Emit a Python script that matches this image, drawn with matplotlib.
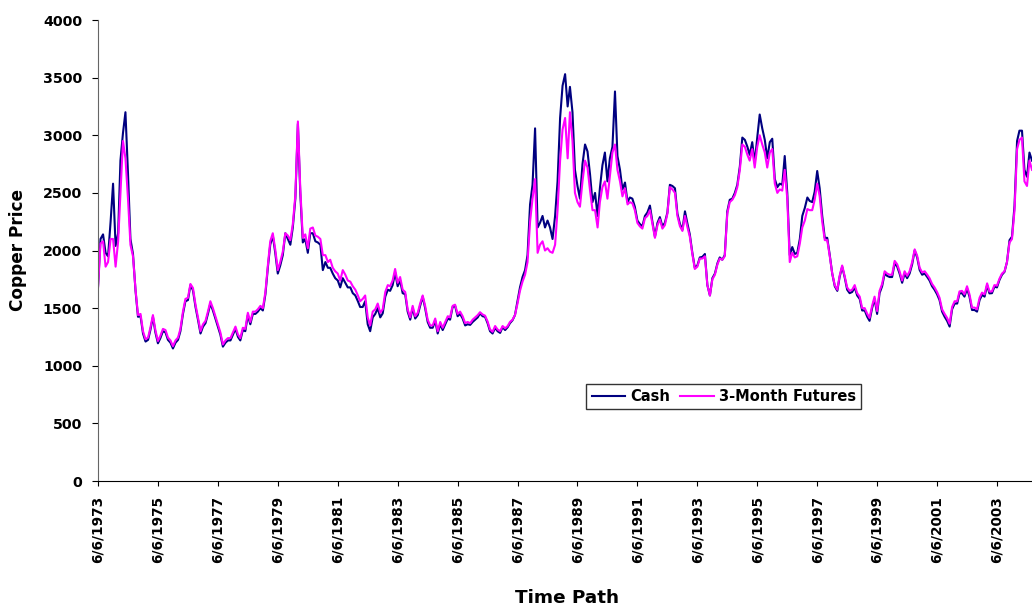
import datetime as dt

import matplotlib

matplotlib.use("Agg")

import matplotlib.pyplot as plt
import pandas as pd

# monthly readings, first value = June 1973
CASH = [
    1690, 2100, 2140, 1980, 1950, 2250, 2580, 2040, 2150, 2780, 3020, 3200,
    2670, 2100, 1970, 1650, 1425, 1430, 1280, 1210, 1225, 1310, 1425, 1290,
    1195, 1240, 1300, 1290, 1225, 1200, 1150, 1200, 1225, 1300, 1450, 1560,
    1570, 1700, 1655, 1510, 1400, 1280, 1339, 1370, 1455, 1540, 1480, 1410,
    1339, 1270, 1166, 1200, 1220, 1220, 1270, 1320, 1250, 1220, 1310, 1300,
    1440, 1360, 1450, 1450, 1470, 1500, 1480, 1620, 1860, 2050, 2130, 1980,
    1800, 1870, 1960, 2150, 2100, 2050, 2200, 2450, 3100, 2500, 2070, 2100,
    1980, 2150, 2150, 2080, 2070, 2050, 1830, 1900, 1850, 1850, 1800, 1760,
    1740, 1680, 1760, 1720, 1680, 1680, 1630, 1610, 1560, 1510, 1510, 1560,
    1360, 1300, 1420, 1450, 1500, 1420, 1455, 1600, 1660, 1650, 1700, 1810,
    1690, 1740, 1630, 1620, 1470, 1400, 1500, 1410, 1440, 1520, 1600, 1500,
    1380, 1330, 1330, 1390, 1280, 1360, 1310, 1360, 1410, 1400, 1510, 1520,
    1430, 1450, 1410, 1350, 1360, 1355, 1380, 1400, 1420, 1455, 1430, 1425,
    1370, 1300, 1280, 1330, 1300, 1285, 1335, 1310, 1335, 1370, 1395, 1440,
    1560, 1680, 1770, 1830, 1960, 2400, 2570, 3060, 2200, 2240, 2300, 2200,
    2260, 2200, 2100, 2300, 2600, 3150, 3430, 3530, 3250, 3420, 3200, 2700,
    2560, 2450, 2750, 2920, 2860, 2660, 2420, 2500, 2300, 2540, 2740, 2850,
    2600, 2800, 2900, 3380, 2820, 2700, 2530, 2590, 2420, 2460, 2450, 2380,
    2260, 2230, 2210, 2300, 2330, 2390, 2250, 2120, 2240, 2290, 2210, 2240,
    2330, 2570, 2560, 2540, 2320, 2230, 2180, 2340, 2230, 2140, 1980, 1850,
    1870, 1940, 1945, 1970, 1700, 1610, 1760, 1800, 1890, 1940, 1920, 1960,
    2340, 2440, 2450, 2500, 2570, 2730, 2980, 2960, 2900, 2830, 2940, 2760,
    2980, 3180, 3060, 2960, 2800, 2940, 2970, 2620, 2550, 2580, 2570, 2820,
    2500, 1960, 2030, 1970, 1980, 2100, 2300, 2370, 2460, 2430, 2420, 2510,
    2690, 2540, 2300, 2110, 2110, 1960, 1800, 1690, 1650, 1770, 1860, 1770,
    1660, 1630, 1640, 1680, 1610, 1580, 1480, 1480, 1425, 1390, 1500, 1580,
    1450, 1630, 1690, 1800, 1780, 1770, 1770, 1890, 1860, 1800, 1720, 1800,
    1760, 1800, 1880, 2000, 1940, 1830, 1790, 1800, 1770, 1740, 1690, 1660,
    1620, 1570, 1470, 1425, 1390, 1340, 1490, 1540, 1540, 1628, 1630, 1600,
    1670, 1600, 1484, 1484, 1470, 1570, 1615, 1600, 1700, 1628, 1630, 1686,
    1680, 1744, 1790, 1815, 1900, 2090, 2120, 2390, 2950, 3040, 3040, 2700,
    2640, 2850, 2780,
]
FUTURES = [
    1680, 2060, 2080, 1860, 1900, 2100, 2100, 1860, 2080, 2500, 2950, 2800,
    2450, 2050, 1950, 1660, 1440, 1450, 1300, 1230, 1245, 1330, 1440, 1310,
    1215, 1260, 1320, 1310, 1245, 1220, 1170, 1220, 1245, 1320, 1470, 1580,
    1590, 1710, 1675, 1530, 1420, 1300, 1360, 1390, 1475, 1560, 1500, 1430,
    1360, 1290, 1185, 1220, 1240, 1240, 1290, 1340, 1270, 1240, 1330, 1320,
    1460, 1380, 1470, 1470, 1490, 1520, 1500, 1640, 1880, 2080, 2150, 2010,
    1830, 1900, 1990, 2150, 2130, 2090, 2230, 2480, 3120, 2540, 2110, 2140,
    2020, 2190, 2200, 2130, 2120, 2100, 1960, 1960, 1900, 1920, 1850, 1820,
    1800, 1740, 1830, 1790, 1740, 1730, 1690, 1660, 1610, 1560, 1580, 1610,
    1420, 1350, 1470, 1490, 1540, 1460, 1490, 1640, 1700, 1690, 1740, 1840,
    1720, 1770, 1660, 1640, 1490, 1420, 1520, 1430, 1460, 1540, 1610, 1520,
    1400, 1350, 1350, 1410, 1300, 1380, 1330, 1380, 1430, 1420, 1520, 1530,
    1450, 1470, 1430, 1370, 1380, 1370, 1400, 1420, 1440, 1465, 1445, 1435,
    1385, 1315, 1295, 1345, 1315, 1300, 1345, 1325, 1345, 1380, 1400, 1440,
    1540, 1650, 1730, 1790, 1900, 2250, 2450, 2620, 1980, 2050, 2080, 2000,
    2020, 1990, 1980, 2050, 2350, 2780, 3050, 3150, 2800, 3200, 2950, 2500,
    2420, 2380, 2600, 2780, 2720, 2520, 2350, 2350, 2200, 2420, 2550, 2600,
    2450, 2650, 2850, 2920, 2700, 2600, 2470, 2540, 2400, 2420, 2410, 2350,
    2240, 2210, 2190, 2280, 2300, 2350, 2230, 2110, 2220, 2270, 2190, 2220,
    2320, 2550, 2530, 2500, 2300, 2210, 2170, 2300, 2200, 2120, 1970, 1840,
    1860, 1930, 1930, 1950, 1700, 1610, 1750, 1790, 1880, 1930, 1920, 1950,
    2320, 2420, 2440, 2480, 2550, 2700, 2920, 2900, 2830, 2780, 2880, 2720,
    2900, 3000, 2920, 2850, 2720, 2850, 2880, 2580, 2500, 2530, 2520, 2700,
    2450, 1900, 1980, 1940, 1950, 2060, 2200, 2260, 2360, 2350, 2350, 2440,
    2580, 2470, 2250, 2090, 2090, 1950, 1800, 1700, 1660, 1780, 1870, 1780,
    1680, 1650, 1660, 1700, 1630, 1600, 1500, 1500, 1450, 1415, 1520, 1600,
    1475, 1650, 1710, 1820, 1800, 1790, 1790, 1910, 1880, 1820, 1740, 1820,
    1780, 1820, 1900, 2010, 1955, 1850, 1810, 1820, 1790, 1760, 1710, 1680,
    1640, 1590, 1490, 1450, 1415, 1365, 1510, 1560, 1560, 1645, 1650, 1620,
    1690, 1620, 1505, 1505, 1490, 1590, 1635, 1620, 1715, 1645, 1645, 1700,
    1695, 1755, 1800, 1820, 1900, 2070, 2100, 2350, 2880, 2960, 2980, 2600,
    2560, 2780, 2700,
]
TICK_LABELS = [
    "6/6/1973", "6/6/1975", "6/6/1977", "6/6/1979", "6/6/1981", "6/6/1983",
    "6/6/1985", "6/6/1987", "6/6/1989", "6/6/1991", "6/6/1993", "6/6/1995",
    "6/6/1997", "6/6/1999", "6/6/2001", "6/6/2003",
]
START = "1973-06-06"

plt.rcParams.update(
    {
        "font.family": ["DejaVu Sans"],
        "font.weight": "bold",
    }
)

dates = pd.date_range(START, periods=len(CASH), freq=pd.DateOffset(months=1))
tick_dates = [dt.datetime.strptime(t, "%m/%d/%Y") for t in TICK_LABELS]

figure = plt.figure(figsize=(10.32, 6.12), dpi=100)
axis = figure.add_axes([0.095, 0.214, 0.905, 0.7533])

axis.plot(dates, CASH, color="#000080", linewidth=1.5, label="Cash")
axis.plot(dates, FUTURES, color="#FF00FF", linewidth=1.5, label="3-Month Futures")

axis.set_ylim(0, 4000)
axis.set_yticks(range(0, 4001, 500))
axis.set_xlim(dates[0], dates[-1])
axis.set_xticks(tick_dates)
axis.set_xticklabels(TICK_LABELS, rotation=90, fontsize=9.8, fontweight="bold")
axis.tick_params(axis="y", labelsize=10.3, length=4.5, pad=7, direction="out")
axis.tick_params(axis="x", length=3.6, pad=7, direction="out")
for label in axis.get_yticklabels():
    label.set_fontweight("bold")

axis.spines[["top", "right"]].set_visible(False)
axis.spines["left"].set_color("#666666")
axis.spines["bottom"].set_color("#000000")

figure.text(18 / 1032, 1 - 250 / 612, "Copper Price", rotation=90,
            ha="center", va="center", fontsize=12.2, fontweight="bold")
figure.text(567 / 1032, 1 - 598 / 612, "Time Path", ha="center", va="center",
            fontsize=13.2, fontweight="bold")

legend = axis.legend(
    loc="center",
    bbox_to_anchor=(0.67, 0.184),
    ncol=2,
    fontsize=10.5,
    frameon=True,
    fancybox=False,
    handlelength=2.3,
    handletextpad=0.35,
    columnspacing=0.7,
    borderpad=0.35,
)
legend.get_frame().set_edgecolor("#000000")
legend.get_frame().set_linewidth(1.0)

figure.savefig("out.png", dpi=100)
